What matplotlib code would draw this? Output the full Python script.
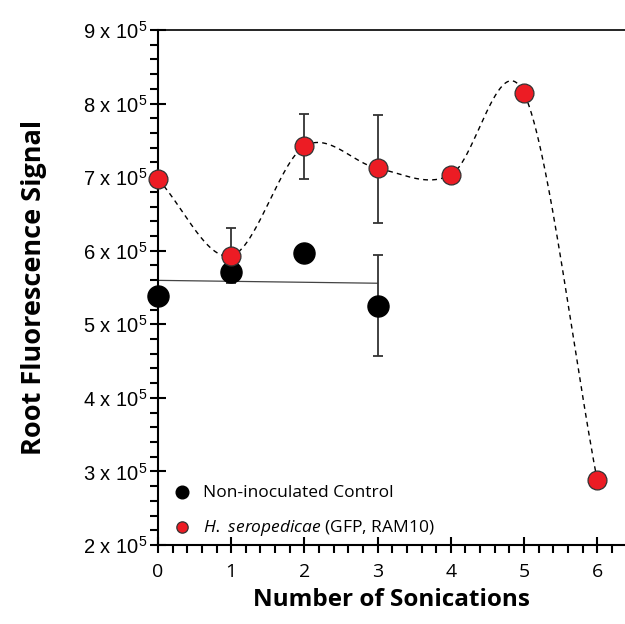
import numpy as np
import matplotlib
matplotlib.use("Agg")
import matplotlib.pyplot as plt
from matplotlib.ticker import MultipleLocator, FuncFormatter

plt.rcParams['mathtext.default'] = 'regular'
plt.rcParams['mathtext.fontset'] = 'custom'
plt.rcParams['mathtext.it'] = 'Open Sans:italic'

# data
ctrl_x = [0, 1, 2, 3]
ctrl_y = [5.38e5, 5.71e5, 5.97e5, 5.25e5]
ctrl_err_lo = [0, 0.15e5, 0, 0.68e5]
ctrl_err_hi = [0, 0, 0, 0.69e5]

hs_x = [0, 1, 2, 3, 4, 5, 6]
hs_y = [6.97e5, 5.93e5, 7.42e5, 7.12e5, 7.03e5, 8.14e5, 2.88e5]
hs_err_lo = [0, 0, 0.45e5, 0.75e5, 0, 0, 0]
hs_err_hi = [0, 0.38e5, 0.44e5, 0.72e5, 0, 0, 0]

ctrl_label = "Non-inoculated Control"
hs_label = r"$\mathit{H.}$ $\mathit{seropedicae}$ (GFP, RAM10)"


def catmull_rom(x, y, n=60):
    # smooth curve through the points (cardinal spline, tension 0)
    x = np.asarray(x, float)
    y = np.asarray(y, float)
    m = np.gradient(y, x)
    xs, ys = [], []
    for i in range(len(x) - 1):
        h = x[i + 1] - x[i]
        t = np.linspace(0, 1, n)
        h00 = 2 * t**3 - 3 * t**2 + 1
        h10 = t**3 - 2 * t**2 + t
        h01 = -2 * t**3 + 3 * t**2
        h11 = t**3 - t**2
        xs.append(x[i] + t * h)
        ys.append(h00 * y[i] + h10 * h * m[i] + h01 * y[i + 1] + h11 * h * m[i + 1])
    return np.concatenate(xs), np.concatenate(ys)


fig = plt.figure(figsize=(6.25, 6.24), dpi=100)
ax = fig.add_axes([158 / 625, 1 - 545 / 624, 1 - 158 / 625, (545 - 30) / 624])

cx, cy = catmull_rom(hs_x, hs_y)
ax.plot(cx, cy, color="black", linestyle=(0, (3.5, 3)), linewidth=1.0, zorder=2)

# linear fit for control
p = np.polyfit(ctrl_x, ctrl_y, 1)
fx = np.array([0, 3])
ax.plot(fx, np.polyval(p, fx), color="#444444", linewidth=0.9, zorder=2)

ax.errorbar(hs_x, hs_y, yerr=[hs_err_lo, hs_err_hi], fmt="none", ecolor="#333333",
            elinewidth=1.3, capsize=3.5, capthick=1.3, zorder=3)
ax.errorbar(ctrl_x, ctrl_y, yerr=[ctrl_err_lo, ctrl_err_hi], fmt="none", ecolor="#333333",
            elinewidth=1.3, capsize=3.5, capthick=1.3, zorder=3)

ax.scatter(ctrl_x, ctrl_y, s=230, color="black", zorder=4, clip_on=False, label=ctrl_label)
ax.scatter(hs_x, hs_y, s=185, facecolor="#ec1c24", edgecolor="#333333", linewidth=0.9,
           zorder=5, clip_on=False, label=hs_label)

ax.set_xlim(0, 467 / 73.2)
ax.set_ylim(2e5, 9e5)

ax.spines["right"].set_visible(False)
for s in ["left", "bottom"]:
    ax.spines[s].set_linewidth(1.5)
ax.spines["top"].set_linewidth(1.2)

ax.xaxis.set_major_locator(MultipleLocator(1))
ax.xaxis.set_minor_locator(MultipleLocator(0.2))
ax.yaxis.set_major_locator(MultipleLocator(1e5))
ax.yaxis.set_minor_locator(MultipleLocator(0.2e5))
ax.yaxis.set_major_formatter(FuncFormatter(lambda v, pos: "%d x 10$^{5}$" % round(v / 1e5)))
ax.tick_params(which="major", direction="inout", length=12, width=1.5)
ax.tick_params(which="minor", direction="out", length=6, width=1.5)
ax.tick_params(top=False, right=False, which="both")
ax.tick_params(axis="x", which="major", pad=7, labelsize=14)
ax.tick_params(axis="y", which="major", pad=2, labelsize=14.5)
for t in ax.get_xticklabels():
    t.set_fontfamily("Open Sans")
for t in ax.get_yticklabels():
    t.set_fontfamily("Liberation Sans")

ax.set_xlabel("Number of Sonications", fontsize=17.5, fontweight="bold", family="Open Sans", labelpad=5)
ax.set_ylabel("Root Fluorescence Signal", fontsize=19.5, fontweight="bold", family="Open Sans", labelpad=26)

leg = ax.legend(loc="lower left", bbox_to_anchor=(0.0, 0.0), frameon=False,
                prop={"family": "Open Sans", "size": 12.5}, handletextpad=0.2, labelspacing=1.0,
                markerscale=0.6, borderaxespad=0.2, borderpad=0.2)

fig.savefig("out.png", dpi=100)
